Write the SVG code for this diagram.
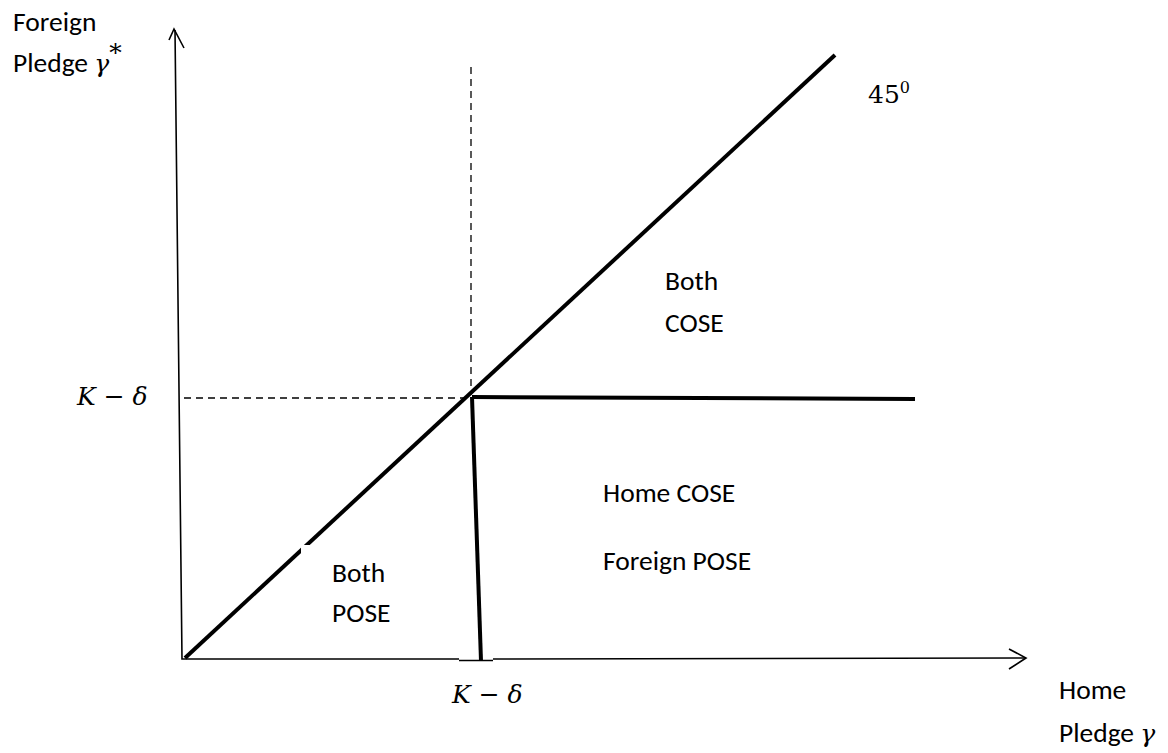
<svg xmlns="http://www.w3.org/2000/svg" width="1168" height="753" viewBox="0 0 1168 753">
<style>
.lbl{font-family:Carlito,"Open Sans","Liberation Sans",sans-serif;font-size:27.5px;fill:#000}
.math{font-family:"DejaVu Serif","Liberation Serif",serif;font-size:25px;fill:#000}
.ax{stroke:#000;stroke-width:1.6;fill:none}
.thick{stroke:#000;stroke-width:4;fill:none}
.dash{stroke:#000;stroke-width:1.3;stroke-dasharray:7,5;fill:none}
</style>
<rect width="1168" height="753" fill="#fff"/>
<g id="connectors">
<polyline class="ax" points="175,30 182,659 459,659"/>
<polyline class="ax" points="459,660.5 493,660.5"/>
<polyline class="ax" points="493,659 1026,658"/>
<polyline class="ax" points="169,40 174,29 184,48"/>
<polyline class="ax" points="1009,649 1026,658 1009,669"/>
<line class="dash" x1="471" y1="67" x2="471" y2="395"/>
<line class="dash" x1="184" y1="398" x2="469" y2="398"/>
<line class="thick" x1="185" y1="658" x2="835" y2="55"/>
<line class="thick" x1="472" y1="397" x2="915" y2="399"/>
<line class="thick" x1="472" y1="397" x2="481" y2="661"/>
<rect x="301" y="545" width="130" height="100" fill="#fff"/>
</g>
<g id="y-axis-label">
<text class="lbl" x="13" y="31">Foreign</text>
<text class="lbl" x="13" y="72">Pledge <tspan class="math" font-style="italic">γ</tspan><tspan class="math" font-size="17" dy="-11">*</tspan></text>
</g>
<g id="x-axis-label">
<text class="lbl" x="1059" y="699">Home</text>
<text class="lbl" x="1059" y="742">Pledge <tspan class="math" font-style="italic">γ</tspan></text>
</g>
<g id="label-45">
<text class="math" x="868" y="103" font-size="23">45<tspan font-size="16" dy="-10">0</tspan></text>
</g>
<g id="k-delta-y">
<text class="math" x="77" y="405"><tspan font-style="italic">K</tspan> − <tspan font-style="italic">δ</tspan></text>
</g>
<g id="k-delta-x">
<text class="math" x="452" y="703"><tspan font-style="italic">K</tspan> − <tspan font-style="italic">δ</tspan></text>
</g>
<g id="both-cose">
<text class="lbl" x="665" y="290">Both</text>
<text class="lbl" x="665" y="332">COSE</text>
</g>
<g id="home-cose-foreign-pose">
<text class="lbl" x="603" y="502">Home COSE</text>
<text class="lbl" x="603" y="570">Foreign POSE</text>
</g>
<g id="both-pose">
<text class="lbl" x="332" y="582">Both</text>
<text class="lbl" x="332" y="622">POSE</text>
</g>
</svg>
